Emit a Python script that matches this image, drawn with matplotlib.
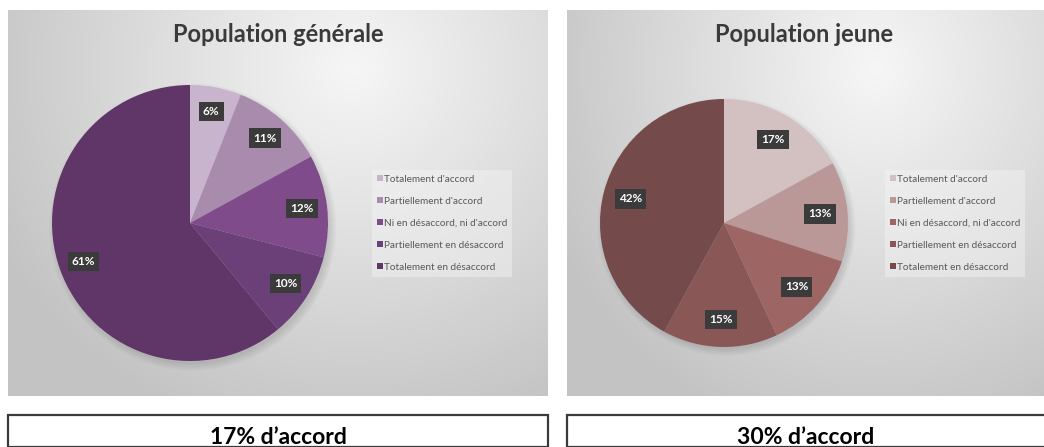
import numpy as np
import matplotlib.pyplot as plt
from matplotlib.patches import Rectangle, Circle

plt.rcParams['font.family'] = ['Lato', 'DejaVu Sans']

# data
categories = ["Totalement d'accord", "Partiellement d'accord", "Ni en désaccord, ni d'accord",
              "Partiellement en désaccord", "Totalement en désaccord"]
general_values = [6, 11, 12, 10, 61]
young_values = [17, 13, 13, 15, 42]
general_colors = ['#c9b4cd', '#a98bae', '#7f4b8b', '#6b3f77', '#5f3667']
young_colors = ['#d3c0c0', '#bb9898', '#9e6565', '#8a5757', '#744a4a']
titles = ['Population générale', 'Population jeune']
summaries = ['17% d\u2019accord', '30% d\u2019accord']

W, H = 1044, 447
fig = plt.figure(figsize=(W / 100, H / 100), dpi=100)
fig.patch.set_facecolor('white')


def px(x0, y0, x1, y1):
    # pixel box (top-left origin) -> figure fraction rect
    return [x0 / W, 1 - y1 / H, (x1 - x0) / W, (y1 - y0) / H]


def gradient_panel(x0, y0, x1, y1):
    ax = fig.add_axes(px(x0, y0, x1, y1))
    nx, ny = 300, 200
    xx, yy = np.meshgrid(np.linspace(0, 1, nx), np.linspace(0, 1, ny))
    d = np.sqrt(((xx - 0.64) / 0.75) ** 2 + ((yy - 0.15) / 1.0) ** 2)
    d = np.clip(d, 0, 1)
    v = 0.965 - 0.2 * d
    img = np.dstack([v, v, v])
    ax.imshow(img, aspect='auto', extent=[0, 1, 1, 0], interpolation='bicubic')
    ax.set_xlim(0, 1)
    ax.set_ylim(1, 0)
    ax.axis('off')
    return ax


def draw_pie(cx, cy, r, values, colors, pct_dist):
    ax = fig.add_axes(px(cx - r * 1.1, cy - r * 1.1, cx + r * 1.1, cy + r * 1.1))
    ax.set_xlim(-1.1, 1.1)
    ax.set_ylim(-1.1, 1.1)
    ax.axis('off')
    # soft shadow
    for k in range(6):
        ax.add_patch(Circle((0.02, -0.03), 0.99 + 0.01 * k, color='black', alpha=0.02, lw=0))
    wedges, texts, autotexts = ax.pie(values, colors=colors, startangle=90, counterclock=False,
                                      radius=1, autopct='%d%%', pctdistance=pct_dist,
                                      wedgeprops=dict(linewidth=0),
                                      textprops=dict(color='white', fontsize=8.5, fontweight='bold'))
    ax.set_xlim(-1.1, 1.1)
    ax.set_ylim(-1.1, 1.1)
    for t in autotexts:
        t.set_bbox(dict(boxstyle='square,pad=0.35', fc='#3b3b3b', ec='none'))
    return ax


def draw_legend(ax, colors, x, y):
    handles = [Rectangle((0, 0), 1, 1, fc=c, ec='none') for c in colors]
    leg = fig.legend(handles, categories, loc='upper left', bbox_to_anchor=(x / W, 1 - y / H),
                     frameon=True, fontsize=7.2, handlelength=0.55, handleheight=0.55,
                     handletextpad=0.15, labelspacing=1.3, borderpad=0.5, borderaxespad=0,
                     fancybox=False, framealpha=0.45)
    leg.get_frame().set_facecolor('#f4f4f4')
    leg.get_frame().set_edgecolor('none')
    for t in leg.get_texts():
        t.set_color('#595959')


panels = [
    dict(x0=8, x1=548, cx=190, cy=223, r=138, values=general_values, colors=general_colors,
         lx=372, tx=278, sx=278, pd=0.82),
    dict(x0=567, x1=1050, cx=724, cy=223, r=124, values=young_values, colors=young_colors,
         lx=885, tx=804, sx=806, pd=0.78),
]

for i, p in enumerate(panels):
    bg = gradient_panel(p['x0'], 10, p['x1'], 396)
    draw_pie(p['cx'], p['cy'], p['r'], p['values'], p['colors'], p['pd'])
    draw_legend(bg, p['colors'], p['lx'], 170)
    fig.text(p['tx'] / W, 1 - 35 / H, titles[i], ha='center', va='center',
             fontsize=17, fontweight='bold', color='#3a3a3a')
    # summary box
    fig.patches.append(Rectangle((p['x0'] / W, 0), (min(p['x1'], 1046) - p['x0']) / W,
                                 (H - 415) / H, transform=fig.transFigure, fill=False,
                                 ec='#3a3a3a', lw=1.6))
    fig.text(p['sx'] / W, 1 - 437 / H, summaries[i], ha='center',
             va='center', fontsize=16.5, fontweight='bold', color='black')

fig.savefig('out.png', dpi=100)
